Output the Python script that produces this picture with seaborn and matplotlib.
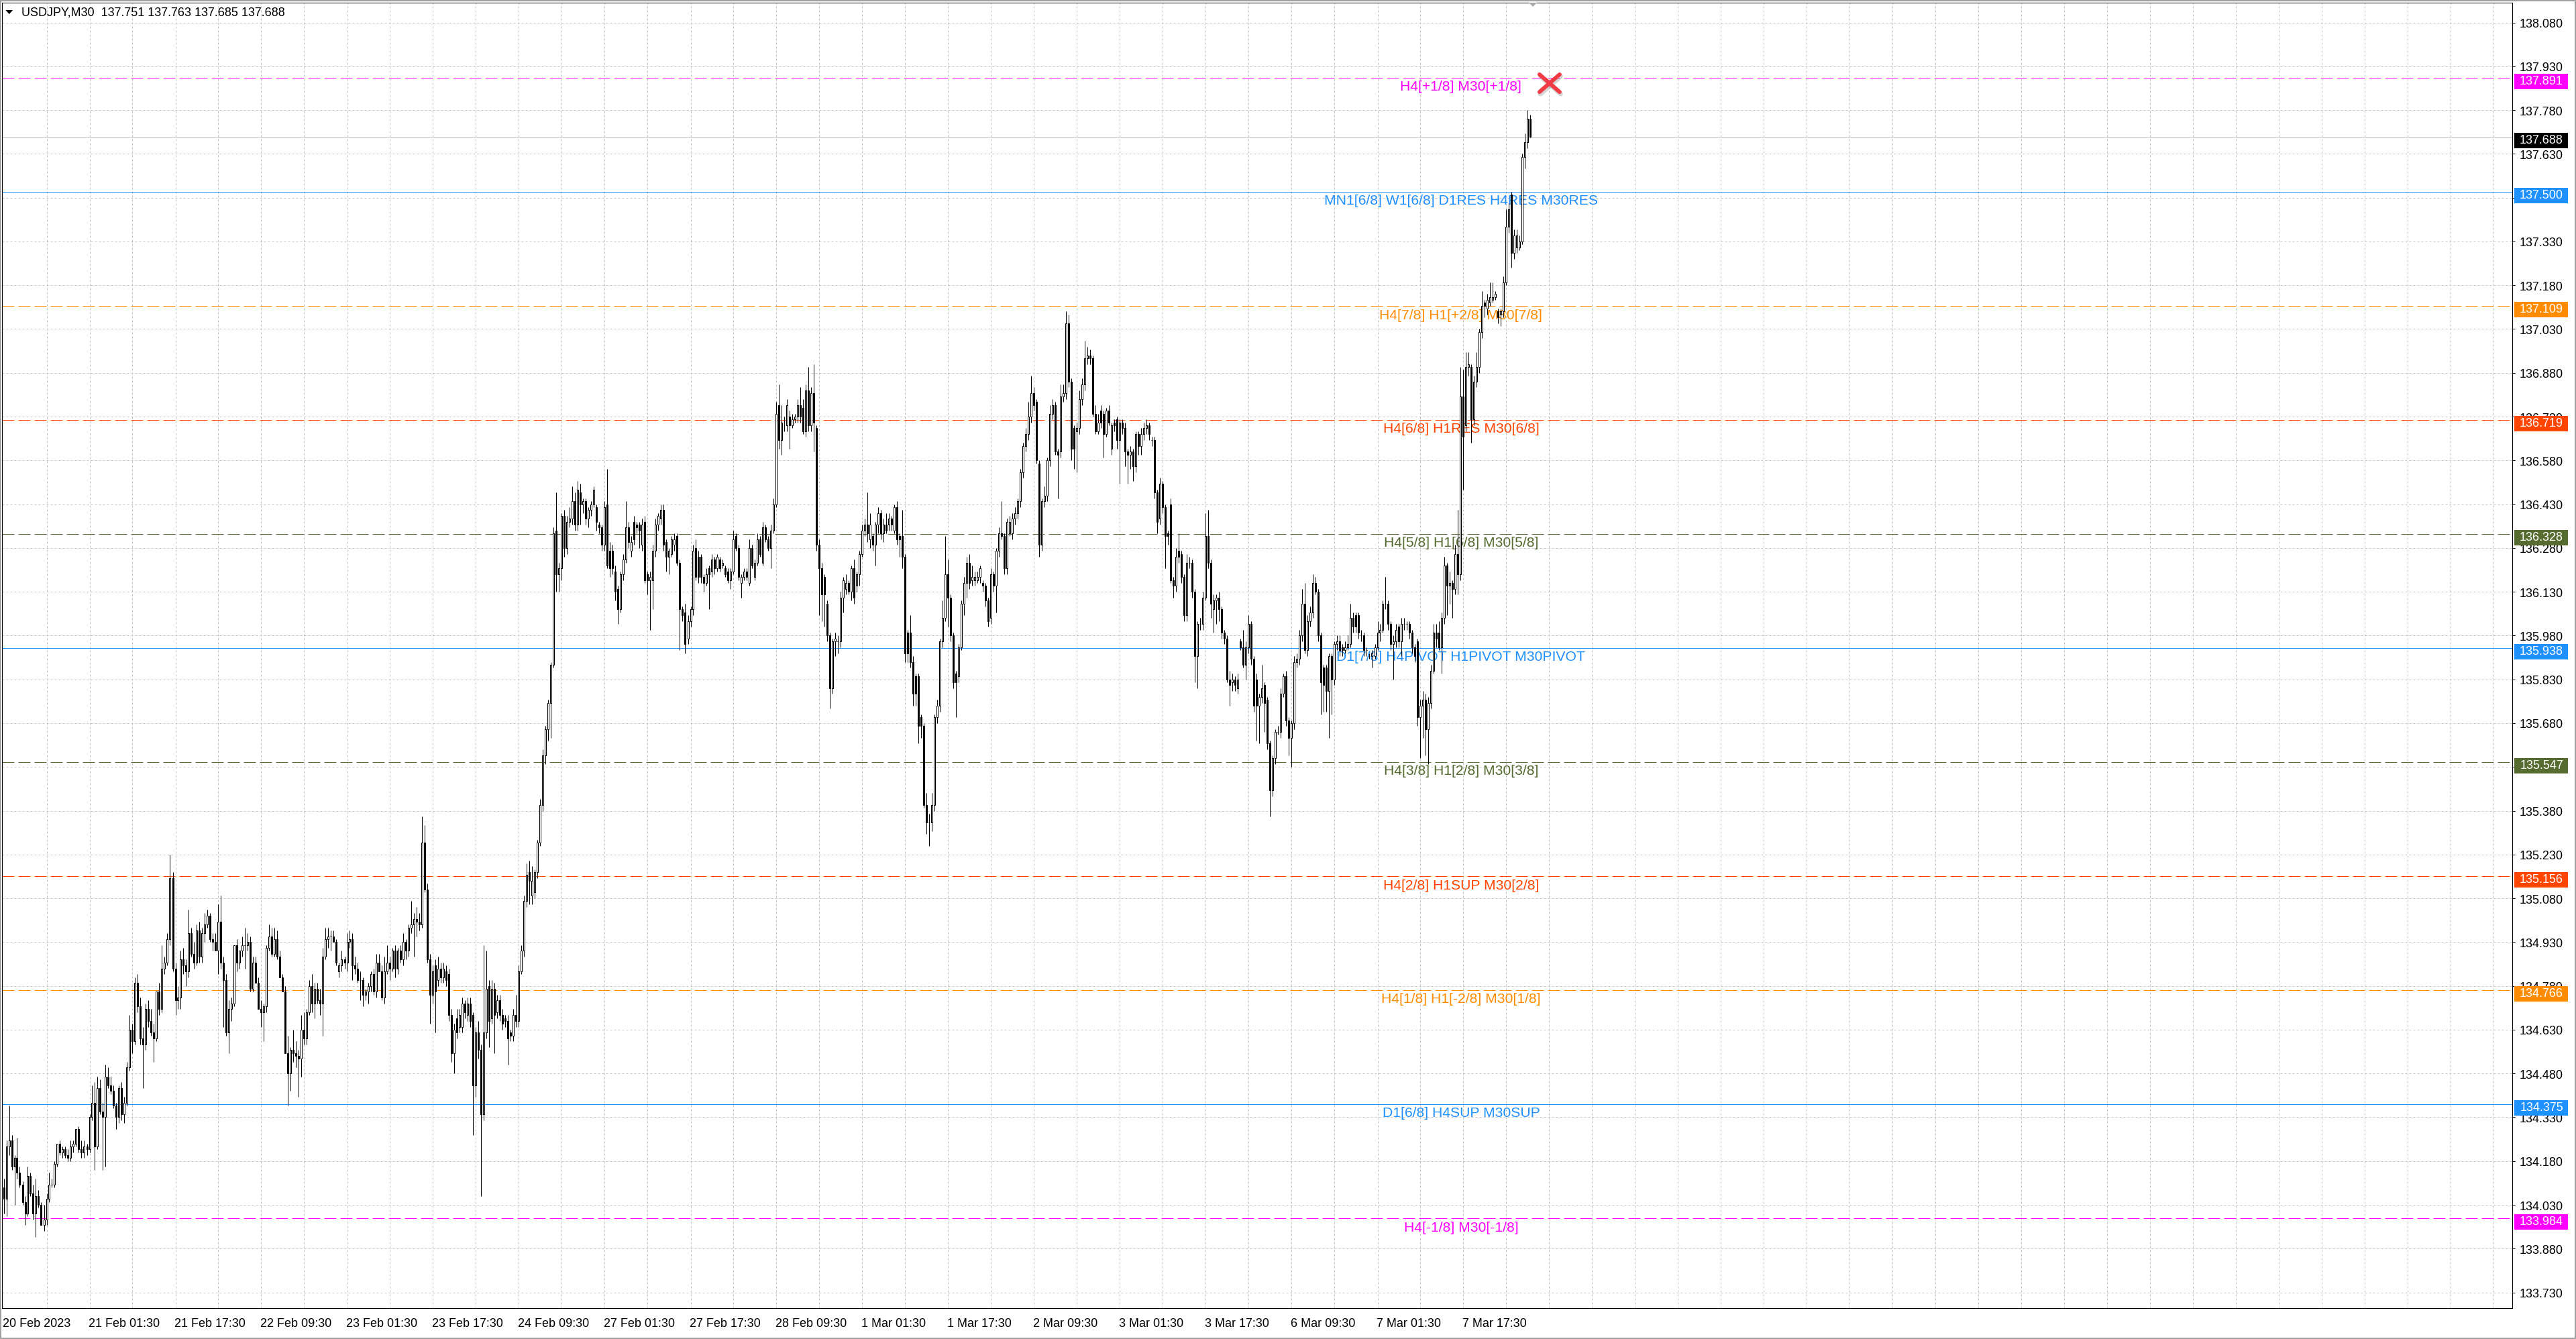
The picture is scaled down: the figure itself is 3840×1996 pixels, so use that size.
import matplotlib
matplotlib.use("Agg")
import matplotlib.pyplot as plt
import seaborn as sns
import numpy as np
import pandas as pd
from matplotlib.patches import Rectangle, Polygon
from matplotlib.transforms import IdentityTransform, blended_transform_factory, offset_copy

# ---------------- data ----------------
title_text = "USDJPY,M30  137.751 137.763 137.685 137.688"

opens = [
134.09,134.05,134.23,134.25,134.16,134.19,134.14,134.10,134.04,134.00,
134.13,134.07,134.00,134.06,134.03,133.96,133.98,134.05,134.10,134.10,
134.17,134.24,134.21,134.22,134.20,134.19,134.23,134.24,134.29,134.22,
134.21,134.23,134.22,134.33,134.38,134.23,134.43,134.35,134.33,134.47,
134.44,134.42,134.37,134.33,134.43,134.34,134.38,134.50,134.63,134.59,
134.79,134.71,134.60,134.58,134.70,134.66,134.62,134.60,134.76,134.70,
134.84,134.86,134.94,135.15,134.84,134.73,134.74,134.87,134.85,134.83,
134.96,134.89,134.86,134.97,134.88,134.96,134.99,135.02,134.94,134.93,
134.90,135.00,134.86,134.80,134.62,134.70,134.72,134.92,134.86,134.90,
134.92,134.92,134.93,134.77,134.86,134.79,134.70,134.69,134.71,134.91,
134.95,134.89,134.94,134.88,134.81,134.76,134.55,134.48,134.56,134.55,
134.54,134.53,134.63,134.60,134.69,134.78,134.72,134.77,134.73,134.72,
134.88,134.94,134.95,134.95,134.93,134.83,134.85,134.87,134.86,134.93,
134.94,134.85,134.84,134.80,134.80,134.75,134.76,134.78,134.82,134.76,
134.86,134.83,134.74,134.83,134.86,134.84,134.90,134.84,134.90,134.87,
134.93,134.90,134.98,134.99,135.01,135.00,134.99,135.27,135.11,134.87,
134.75,134.85,134.80,134.84,134.81,134.83,134.82,134.68,134.55,134.67,
134.64,134.64,134.72,134.68,134.72,134.68,134.44,134.62,134.56,134.34,
134.62,134.78,134.67,134.77,134.69,134.73,134.68,134.67,134.66,134.62,
134.61,134.68,134.66,134.83,134.90,135.07,135.17,135.09,135.10,135.17,
135.27,135.40,135.57,135.66,135.75,135.88,136.34,136.19,136.21,136.39,
136.28,136.37,136.38,136.44,136.36,136.47,136.43,136.44,136.38,136.41,
136.43,136.42,136.36,136.35,136.29,136.43,136.27,136.27,136.20,136.14,
136.07,136.19,136.24,136.35,136.27,136.37,136.36,136.36,136.29,136.37,
136.19,136.17,136.17,136.27,136.36,136.38,136.41,136.30,136.25,136.26,
136.29,136.32,136.23,136.07,136.06,135.97,136.03,136.07,136.28,136.25,
136.25,136.18,136.16,136.21,136.20,136.24,136.21,136.24,136.22,136.21,
136.20,136.17,136.20,136.32,136.28,136.16,136.18,136.20,136.16,136.28,
136.18,136.23,136.31,136.23,136.35,136.31,136.28,136.34,136.43,136.77,
136.65,136.71,136.70,136.73,136.70,136.72,136.73,136.77,136.76,136.68,
136.82,136.70,136.81,136.69,136.29,136.21,136.18,136.09,135.98,135.80,
135.96,135.96,135.96,136.11,136.14,136.16,136.13,136.21,136.15,136.19,
136.26,136.34,136.36,136.31,136.32,136.29,136.36,136.40,136.33,136.36,
136.36,136.38,136.34,136.42,136.32,136.32,136.25,135.99,135.99,135.89,
135.84,135.84,135.70,135.67,135.40,135.34,135.34,135.40,135.70,135.74,
135.96,136.04,136.19,136.11,135.98,135.85,135.84,135.94,136.09,136.16,
136.23,136.17,136.17,136.17,136.18,136.16,136.15,136.10,136.04,136.19,
136.15,136.27,136.33,136.32,136.21,136.33,136.33,136.38,136.40,136.44,
136.54,136.63,136.67,136.73,136.81,136.78,136.57,136.29,136.44,136.46,
136.58,136.74,136.77,136.61,136.61,136.80,136.81,137.05,136.85,136.69,
136.68,136.69,136.79,136.84,136.93,136.94,136.93,136.74,136.68,136.75,
136.74,136.67,136.75,136.62,136.71,136.72,136.65,136.71,136.69,136.61,
136.60,136.61,136.56,136.67,136.63,136.67,136.69,136.70,136.65,136.65,
136.47,136.38,136.50,136.42,136.33,136.43,136.17,136.15,136.27,136.26,
136.18,136.05,136.23,136.23,136.13,135.91,136.02,136.02,136.11,136.32,
136.23,136.07,136.10,136.11,136.07,135.99,135.97,135.83,135.82,135.83,
135.80,135.96,135.94,135.88,135.94,136.02,135.90,135.83,135.74,135.77,
135.81,135.76,135.61,135.45,135.56,135.65,135.65,135.78,135.84,135.69,
135.63,135.68,135.89,135.90,135.98,136.09,135.93,136.03,136.06,136.16,
136.13,135.98,135.87,135.87,135.79,135.91,135.83,135.95,135.96,135.94,
135.93,135.94,135.95,136.04,136.05,136.05,135.98,135.98,135.93,135.91,
135.91,135.91,135.94,135.99,136.00,136.09,136.09,136.02,135.95,135.96,
136.01,135.96,136.02,136.02,136.02,135.99,135.94,135.96,135.70,135.74,
135.76,135.66,135.75,135.86,135.99,135.99,135.94,136.04,136.22,136.15,
136.16,136.14,136.26,136.19,136.80,136.70,136.90,136.90,136.72,136.85,
136.90,137.02,137.12,137.10,137.12,137.13,137.14,137.09,137.08,137.09,
137.19,137.38,137.49,137.29,137.31,137.31,137.33,137.62,137.67,137.751,
]

highs = [
134.12,134.25,134.37,134.27,134.20,134.26,134.16,134.11,134.06,134.16,
134.14,134.10,134.12,134.08,134.04,134.03,134.07,134.14,134.12,134.18,
134.24,134.25,134.23,134.23,134.22,134.25,134.25,134.29,134.30,134.25,
134.25,134.24,134.34,134.44,134.45,134.47,134.46,134.38,134.51,134.50,
134.47,134.44,134.38,134.44,134.45,134.40,134.52,134.68,134.65,134.81,
134.82,134.74,134.64,134.72,134.73,134.70,134.65,134.76,134.79,134.92,
134.88,134.96,135.23,135.17,134.86,134.78,134.90,134.91,134.87,135.04,
134.98,134.93,134.99,135.00,134.98,135.03,135.04,135.03,134.96,134.96,
135.06,135.09,134.88,134.82,134.73,134.74,134.92,134.94,134.90,134.95,
134.98,134.96,134.95,134.88,134.88,134.81,134.73,134.72,134.92,134.99,
134.98,134.98,134.97,134.90,134.82,134.78,134.61,134.57,134.63,134.59,
134.56,134.68,134.69,134.70,134.80,134.82,134.79,134.79,134.77,134.91,
134.98,134.98,134.97,134.97,134.94,134.86,134.90,134.88,134.96,134.97,
134.96,134.88,134.86,134.83,134.81,134.77,134.79,134.83,134.84,134.89,
134.89,134.85,134.88,134.92,134.88,134.91,134.92,134.91,134.92,134.96,
134.94,134.99,135.07,135.03,135.05,135.03,135.36,135.33,135.13,134.89,
134.85,134.87,134.88,134.86,134.86,134.85,134.84,134.70,134.65,134.70,
134.70,134.74,134.73,134.74,134.74,134.69,134.64,134.66,134.58,134.92,
134.90,134.80,134.80,134.79,134.75,134.75,134.70,134.68,134.68,134.63,
134.70,134.75,134.85,134.92,135.09,135.20,135.21,135.19,135.18,135.28,
135.42,135.59,135.67,135.76,135.89,136.35,136.47,136.23,136.40,136.41,
136.39,136.42,136.49,136.47,136.51,136.50,136.45,136.45,136.42,136.44,
136.49,136.43,136.37,136.36,136.44,136.55,136.30,136.29,136.22,136.15,
136.20,136.26,136.44,136.37,136.32,136.39,136.37,136.37,136.38,136.39,
136.20,136.20,136.29,136.38,136.40,136.43,136.43,136.31,136.28,136.32,
136.33,136.33,136.24,136.08,136.09,136.05,136.08,136.29,136.31,136.27,
136.26,136.19,136.21,136.22,136.26,136.25,136.26,136.25,136.24,136.22,
136.21,136.21,136.34,136.33,136.29,136.19,136.21,136.21,136.31,136.29,
136.24,136.33,136.32,136.37,136.36,136.32,136.36,136.45,136.78,136.84,
136.77,136.73,136.79,136.75,136.74,136.74,136.79,136.83,136.79,136.84,
136.90,136.83,136.91,136.70,136.31,136.23,136.19,136.10,135.99,135.97,
135.99,135.98,136.13,136.18,136.19,136.17,136.22,136.24,136.20,136.27,
136.36,136.38,136.47,136.40,136.33,136.37,136.42,136.41,136.38,136.40,
136.40,136.39,136.43,136.44,136.33,136.41,136.26,136.00,136.05,135.91,
135.85,135.85,135.71,135.68,135.44,135.37,135.44,135.71,135.76,135.97,
136.10,136.32,136.24,136.12,135.99,135.86,135.95,136.10,136.18,136.25,
136.26,136.22,136.20,136.20,136.22,136.17,136.16,136.11,136.21,136.20,
136.28,136.35,136.44,136.33,136.38,136.39,136.40,136.42,136.45,136.55,
136.64,136.69,136.78,136.87,136.83,136.79,136.58,136.45,136.49,136.59,
136.77,136.79,136.78,136.62,136.84,136.84,137.09,137.08,136.86,136.70,
136.71,136.82,136.86,136.99,136.97,136.96,136.94,136.77,136.74,136.77,
136.75,136.76,136.77,136.71,136.72,136.73,136.72,136.72,136.71,136.62,
136.63,136.62,136.68,136.68,136.69,136.71,136.72,136.71,136.66,136.66,
136.48,136.52,136.51,136.43,136.34,136.45,136.18,136.28,136.33,136.27,
136.19,136.26,136.25,136.24,136.14,136.03,136.04,136.13,136.40,136.41,
136.24,136.12,136.12,136.13,136.08,136.00,135.98,135.86,135.85,135.84,
135.85,135.97,136.00,135.96,136.05,136.03,135.91,135.85,135.78,135.88,
135.82,135.77,135.62,135.57,135.66,135.67,135.80,135.85,135.86,135.70,
135.69,135.91,135.92,136.00,136.14,136.16,136.05,136.08,136.19,136.18,
136.14,135.99,135.88,135.88,135.92,135.92,135.96,135.98,135.98,135.95,
135.96,135.98,136.09,136.06,136.06,136.06,136.00,135.99,135.94,135.92,
135.93,135.95,136.03,136.02,136.10,136.18,136.10,136.03,135.98,136.02,
136.02,136.04,136.04,136.03,136.03,136.00,135.95,135.97,135.76,135.79,
135.78,135.77,135.88,136.02,136.02,136.03,136.06,136.25,136.23,136.20,
136.17,136.29,136.41,136.90,136.89,136.95,136.95,136.91,136.87,136.95,
137.03,137.16,137.13,137.15,137.19,137.19,137.16,137.10,137.10,137.21,
137.44,137.46,137.50,137.37,137.37,137.35,137.63,137.70,137.78,137.763,
]

lows = [
134.00,133.99,134.20,134.15,134.03,134.12,134.09,134.03,133.96,133.99,
134.06,133.98,133.92,134.02,133.96,133.94,133.96,134.04,134.09,134.09,
134.16,134.20,134.19,134.19,134.18,134.18,134.21,134.23,134.21,134.19,
134.19,134.20,134.21,134.32,134.15,134.22,134.34,134.15,134.16,134.43,
134.41,134.36,134.29,134.31,134.32,134.31,134.37,134.49,134.55,134.58,
134.69,134.58,134.43,134.56,134.64,134.61,134.52,134.59,134.68,134.69,
134.82,134.85,134.92,134.83,134.68,134.70,134.70,134.82,134.78,134.81,
134.88,134.84,134.85,134.86,134.86,134.93,134.98,134.93,134.90,134.90,
134.82,134.84,134.64,134.61,134.55,134.66,134.71,134.83,134.84,134.88,
134.84,134.90,134.76,134.76,134.79,134.70,134.64,134.59,134.69,134.90,
134.88,134.88,134.87,134.81,134.76,134.55,134.37,134.42,134.52,134.50,
134.40,134.47,134.58,134.58,134.68,134.69,134.67,134.72,134.68,134.61,
134.87,134.91,134.90,134.93,134.85,134.81,134.83,134.84,134.83,134.91,
134.80,134.82,134.79,134.73,134.71,134.73,134.72,134.76,134.75,134.74,
134.83,134.73,134.72,134.82,134.80,134.83,134.81,134.82,134.86,134.85,
134.87,134.88,134.96,134.88,134.95,134.97,134.98,135.10,134.86,134.65,
134.72,134.62,134.78,134.79,134.79,134.78,134.66,134.52,134.48,134.60,
134.62,134.62,134.67,134.66,134.64,134.27,134.40,134.53,134.06,134.32,
134.60,134.57,134.65,134.55,134.67,134.66,134.63,134.64,134.51,134.59,
134.59,134.64,134.64,134.82,134.88,135.05,135.06,135.06,135.08,135.15,
135.26,135.38,135.54,135.62,135.63,135.87,136.13,136.13,136.17,136.25,
136.26,136.35,136.36,136.34,136.34,136.36,136.40,136.36,136.35,136.39,
136.42,136.34,136.33,136.27,136.27,136.21,136.18,136.19,136.10,136.02,
136.06,136.17,136.23,136.28,136.25,136.29,136.33,136.28,136.27,136.16,
136.12,136.00,136.07,136.25,136.34,136.36,136.27,136.20,136.19,136.25,
136.27,136.22,135.93,136.03,135.92,135.95,136.01,136.05,136.17,136.16,
136.16,136.13,136.15,136.07,136.18,136.19,136.20,136.20,136.21,136.18,
136.16,136.14,136.19,136.27,136.17,136.11,136.17,136.17,136.15,136.21,
136.17,136.22,136.25,136.22,136.30,136.27,136.21,136.33,136.42,136.62,
136.60,136.68,136.68,136.62,136.69,136.71,136.71,136.71,136.67,136.66,
136.68,136.68,136.61,136.27,136.05,136.03,136.01,135.96,135.73,135.78,
135.91,135.92,135.94,136.06,136.12,136.12,136.10,136.09,136.13,136.15,
136.25,136.32,136.30,136.28,136.27,136.22,136.33,136.31,136.30,136.33,
136.34,136.34,136.33,136.29,136.25,136.21,135.89,135.89,135.87,135.74,
135.74,135.61,135.63,135.39,135.30,135.26,135.31,135.38,135.68,135.72,
135.94,136.03,136.01,135.96,135.80,135.70,135.82,135.93,136.05,136.11,
136.14,136.15,136.15,136.16,136.16,136.13,136.08,136.01,136.02,136.13,
136.06,136.25,136.31,136.19,136.19,136.32,136.31,136.36,136.38,136.42,
136.52,136.61,136.65,136.71,136.75,136.57,136.25,136.27,136.42,136.44,
136.56,136.72,136.60,136.45,136.59,136.78,136.79,136.83,136.58,136.55,
136.54,136.67,136.77,136.82,136.91,136.91,136.73,136.67,136.67,136.69,
136.59,136.66,136.70,136.60,136.68,136.62,136.50,136.67,136.56,136.50,
136.55,136.51,136.54,136.60,136.60,136.65,136.67,136.65,136.63,136.45,
136.33,136.36,136.40,136.21,136.29,136.16,136.11,136.13,136.23,136.16,
136.03,136.03,136.21,136.11,135.82,135.80,136.00,136.00,136.10,136.21,
136.04,135.99,136.02,136.03,135.97,135.95,135.82,135.74,135.79,135.79,
135.78,135.93,135.87,135.83,135.92,135.88,135.72,135.62,135.61,135.75,
135.65,135.59,135.36,135.43,135.54,135.64,135.63,135.77,135.67,135.57,
135.53,135.66,135.87,135.88,135.96,135.92,135.91,136.01,136.04,136.12,
135.96,135.71,135.72,135.72,135.63,135.71,135.81,135.93,135.91,135.91,
135.92,135.93,135.94,135.99,135.99,135.97,135.96,135.91,135.91,135.90,
135.87,135.90,135.93,135.96,135.99,136.07,136.00,135.93,135.83,135.94,
135.94,135.91,136.00,136.00,135.97,135.92,135.89,135.67,135.56,135.63,
135.57,135.54,135.73,135.85,135.94,135.93,135.85,136.02,136.05,136.09,
136.04,136.12,136.12,136.17,136.48,136.68,136.87,136.64,136.70,136.83,
136.88,137.00,137.07,137.08,137.11,137.12,137.13,137.05,137.04,137.07,
137.18,137.36,137.24,137.27,137.29,137.30,137.32,137.58,137.65,137.685,
]

closes = [
134.05,134.23,134.25,134.16,134.19,134.14,134.10,134.04,134.00,134.13,
134.07,134.00,134.06,134.03,133.96,133.98,134.05,134.10,134.10,134.17,
134.24,134.21,134.22,134.20,134.19,134.23,134.24,134.29,134.22,134.21,
134.23,134.22,134.33,134.38,134.23,134.43,134.35,134.33,134.47,134.44,
134.42,134.37,134.33,134.43,134.34,134.38,134.50,134.63,134.59,134.79,
134.71,134.60,134.58,134.70,134.66,134.62,134.60,134.76,134.70,134.84,
134.86,134.94,135.15,134.84,134.73,134.74,134.87,134.85,134.83,134.96,
134.89,134.86,134.97,134.88,134.96,134.99,135.02,134.94,134.93,134.90,
135.00,134.86,134.80,134.62,134.70,134.72,134.92,134.86,134.90,134.92,
134.92,134.93,134.77,134.86,134.79,134.70,134.69,134.71,134.91,134.95,
134.89,134.94,134.88,134.81,134.76,134.55,134.48,134.56,134.55,134.54,
134.53,134.63,134.60,134.69,134.78,134.72,134.77,134.73,134.72,134.88,
134.94,134.95,134.95,134.93,134.86,134.85,134.87,134.86,134.93,134.94,
134.85,134.84,134.80,134.80,134.75,134.76,134.78,134.82,134.76,134.86,
134.83,134.74,134.83,134.86,134.84,134.90,134.84,134.90,134.87,134.93,
134.90,134.98,134.99,135.01,135.00,134.99,135.27,135.11,134.87,134.75,
134.83,134.76,134.84,134.81,134.84,134.80,134.68,134.55,134.63,134.62,
134.68,134.72,134.69,134.72,134.66,134.44,134.62,134.56,134.34,134.62,
134.77,134.66,134.77,134.68,134.73,134.68,134.65,134.66,134.60,134.61,
134.68,134.66,134.83,134.90,135.07,135.16,135.14,135.14,135.17,135.27,
135.40,135.57,135.66,135.75,135.88,136.33,136.19,136.21,136.39,136.28,
136.37,136.38,136.44,136.36,136.48,136.43,136.44,136.38,136.41,136.43,
136.48,136.37,136.35,136.29,136.42,136.22,136.21,136.21,136.13,136.07,
136.19,136.24,136.35,136.30,136.30,136.31,136.35,136.34,136.36,136.17,
136.17,136.18,136.27,136.36,136.39,136.41,136.29,136.25,136.27,136.31,
136.31,136.23,136.07,136.05,135.95,136.03,136.07,136.27,136.18,136.18,
136.18,136.16,136.19,136.19,136.24,136.21,136.25,136.21,136.23,136.19,
136.17,136.20,136.31,136.28,136.18,136.18,136.20,136.18,136.28,136.22,
136.23,136.31,136.26,136.35,136.31,136.28,136.34,136.43,136.74,136.65,
136.71,136.71,136.77,136.70,136.72,136.73,136.77,136.73,136.68,136.82,
136.70,136.81,136.71,136.29,136.21,136.12,136.12,135.98,135.80,135.96,
135.97,135.96,136.11,136.17,136.16,136.13,136.21,136.11,136.19,136.26,
136.34,136.36,136.33,136.36,136.29,136.36,136.40,136.33,136.36,136.34,
136.38,136.36,136.42,136.31,136.31,136.25,135.92,135.92,135.89,135.78,
135.78,135.67,135.67,135.40,135.34,135.34,135.40,135.70,135.74,135.96,
136.04,136.19,136.11,135.98,135.82,135.82,135.94,136.09,136.16,136.23,
136.16,136.18,136.18,136.18,136.21,136.15,136.10,136.03,136.19,136.15,
136.27,136.33,136.32,136.21,136.37,136.37,136.38,136.40,136.44,136.54,
136.63,136.67,136.73,136.81,136.77,136.58,136.29,136.44,136.46,136.58,
136.74,136.77,136.61,136.60,136.80,136.81,137.05,136.85,136.62,136.62,
136.69,136.79,136.84,136.93,136.94,136.93,136.74,136.68,136.71,136.71,
136.67,136.75,136.71,136.70,136.70,136.65,136.71,136.69,136.61,136.60,
136.61,136.56,136.67,136.63,136.67,136.69,136.70,136.67,136.65,136.47,
136.37,136.50,136.42,136.32,136.32,136.17,136.15,136.25,136.25,136.18,
136.05,136.23,136.23,136.13,135.91,136.02,136.02,136.11,136.32,136.23,
136.09,136.10,136.11,136.07,135.99,135.97,135.83,135.81,135.83,135.81,
135.83,135.94,135.88,135.94,136.02,135.90,135.74,135.74,135.77,135.80,
135.75,135.61,135.45,135.56,135.65,135.65,135.78,135.84,135.69,135.63,
135.68,135.89,135.90,135.98,136.09,135.93,136.03,136.06,136.16,136.13,
135.98,135.82,135.81,135.79,135.91,135.83,135.95,135.96,135.93,135.93,
135.94,135.95,136.04,136.01,136.01,135.99,135.98,135.93,135.93,135.91,
135.92,135.94,135.99,136.00,136.09,136.09,136.02,135.95,135.96,136.00,
135.96,136.02,136.02,136.02,135.99,135.94,135.91,135.70,135.74,135.76,
135.66,135.75,135.86,135.99,135.97,135.94,136.04,136.22,136.15,136.16,
136.14,136.26,136.19,136.80,136.66,136.90,136.91,136.72,136.85,136.90,
137.02,137.11,137.11,137.13,137.14,137.14,137.15,137.07,137.09,137.19,
137.38,137.44,137.29,137.35,137.35,137.33,137.62,137.67,137.75,137.688,
]

time_labels = ["20 Feb 2023", "21 Feb 01:30", "21 Feb 17:30", "22 Feb 09:30",
               "23 Feb 01:30", "23 Feb 17:30", "24 Feb 09:30", "27 Feb 01:30",
               "27 Feb 17:30", "28 Feb 09:30", "1 Mar 01:30", "1 Mar 17:30",
               "2 Mar 09:30", "3 Mar 01:30", "3 Mar 17:30", "6 Mar 09:30",
               "7 Mar 01:30", "7 Mar 17:30"]
bars_per_label = 32

price_ticks = [133.730, 133.880, 134.030, 134.180, 134.330, 134.480, 134.630,
               134.780, 134.930, 135.080, 135.230, 135.380, 135.530, 135.680,
               135.830, 135.980, 136.130, 136.280, 136.430, 136.580, 136.730,
               136.880, 137.030, 137.180, 137.330, 137.480, 137.630, 137.780,
               137.930, 138.080]

level_prices = [137.891, 137.500, 137.109, 136.719, 136.328, 135.938,
                135.547, 135.156, 134.766, 134.375, 133.984]
level_texts = ["H4[+1/8] M30[+1/8]",
               "MN1[6/8] W1[6/8] D1RES H4RES M30RES",
               "H4[7/8] H1[+2/8] M30[7/8]",
               "H4[6/8] H1RES M30[6/8]",
               "H4[5/8] H1[6/8] M30[5/8]",
               "D1[7/8] H4PIVOT H1PIVOT M30PIVOT",
               "H4[3/8] H1[2/8] M30[3/8]",
               "H4[2/8] H1SUP M30[2/8]",
               "H4[1/8] H1[-2/8] M30[1/8]",
               "D1[6/8] H4SUP M30SUP",
               "H4[-1/8] M30[-1/8]"]
level_colors = ["#FF00FF", "#1E90FF", "#FF8C00", "#FF4500", "#556B2F", "#1E90FF",
                "#556B2F", "#FF4500", "#FF8C00", "#1E90FF", "#FF00FF"]
level_dashed = [True, False, True, True, True, False, True, True, True, False, True]

bid_price = 137.688
cross_bar, cross_price = 576.1, 137.872

# ---------------- figure ----------------
sns.set_theme(style="white")
plt.rcParams['font.family'] = ['Liberation Sans', 'DejaVu Sans']
plt.rcParams['lines.scale_dashes'] = True

W, H = 3840, 1996
fig = plt.figure(figsize=(W / 100, H / 100), dpi=100)
fig.patch.set_facecolor("white")
L_PX, R_PX, T_PX, B_PX = 3, 3745, 4, 1950
ax = fig.add_axes([L_PX / W, (H - B_PX) / H, (R_PX - L_PX) / W, (B_PX - T_PX) / H])
ax.set_facecolor("white")
ax.set_xlim(-0.625, 934.875)
ax.set_ylim(133.6762, 138.1478)
for s in ax.spines.values():
    s.set_color("black")
    s.set_linewidth(0.72)

FS = 13
FS_LEVEL = 15.2
PX = 0.72  # 1 pixel in points

# grid
ax.set_yticks(price_ticks)
ax.set_xticks(np.arange(16, 929, 16))
ax.grid(True, color="#c4c4c4", linewidth=PX, linestyle=(0, (3, 3)))
ax.set_axisbelow(True)
ax.tick_params(axis="x", length=0, labelbottom=False, bottom=False)
ax.yaxis.tick_right()
ax.tick_params(axis="y", right=True, left=False, length=3, width=PX, color="black",
               labelright=False, labelleft=False, direction="out")

# level lines and labels
for p, t, c, d in zip(level_prices, level_texts, level_colors, level_dashed):
    ln = ax.axhline(p, color=c, linewidth=PX, linestyle=(0, (18, 6)) if d else "-", zorder=2)
    ln.set_snap(True)
    ax.text(543.1, p, t, color=c, fontsize=FS_LEVEL, ha="center", va="baseline", zorder=3,
            transform=offset_copy(ax.transData, fig=fig, y=-19.5, units="dots"))

# bid line
bid_df = pd.DataFrame({"x": [ax.get_xlim()[0], ax.get_xlim()[1]], "y": [bid_price, bid_price]})
sns.lineplot(data=bid_df, x="x", y="y", ax=ax, color="#c0c0c0", linewidth=PX, zorder=2)
ax.set_xlim(-0.625, 934.875)
ax.set_xlabel("")
ax.set_ylabel("")

# candles
o = np.array(opens); h = np.array(highs); lo = np.array(lows); c = np.array(closes)
n = min(len(o), len(h), len(lo), len(c))
o, h, lo, c = o[:n], h[:n], lo[:n], c[:n]
x = np.arange(n)
ax.vlines(x, lo, h, color="black", linewidth=PX, zorder=4)
bottoms = np.minimum(o, c)
heights = np.abs(c - o)
facecols = ["white" if cc >= oo else "black" for oo, cc in zip(o, c)]
ax.bar(x, heights, bottom=bottoms, width=0.5, color=facecols, edgecolor="black",
       linewidth=PX, zorder=5)

# red cross object
dx, dy = 3.75, 0.030
sh = offset_copy(ax.transData, fig=fig, x=1.5, y=-3, units="dots")
for (xa, xb), (ya, yb) in [((cross_bar - dx, cross_bar + dx), (cross_price + dy, cross_price - dy)),
                           ((cross_bar - dx, cross_bar + dx), (cross_price - dy, cross_price + dy))]:
    ax.plot([xa, xb], [ya, yb], color="#8a8a8a", alpha=0.35, linewidth=5.0,
            solid_capstyle="round", transform=sh, zorder=6)
    ax.plot([xa, xb], [ya, yb], color="#f03c44", linewidth=4.3,
            solid_capstyle="round", zorder=7)

# price axis labels
ytrans = blended_transform_factory(IdentityTransform(), ax.transData)
ppu = ax.transData.transform((0, 1))[1] - ax.transData.transform((0, 0))[1]
lab_trans = offset_copy(ytrans, fig=fig, y=-3, units="dots")
for t in price_ticks:
    ax.text(3756, t, f"{t:.3f}", fontsize=FS, color="black", ha="left", va="center",
            transform=lab_trans, clip_on=False, zorder=9)

# price tags
tags = list(zip(level_prices, level_colors)) + [(bid_price, "black")]
for p, col in tags:
    r = Rectangle((3748, p - 17 / ppu), 80, 23 / ppu, transform=ytrans,
                  facecolor=col, edgecolor="none", clip_on=False, zorder=10)
    ax.add_patch(r)
    ax.text(3788.5, p - 5.5 / ppu, f"{p:.3f}", fontsize=FS, color="white",
            ha="center", va="center", transform=ytrans, clip_on=False, zorder=11)

# time labels
xtrans = blended_transform_factory(ax.transData, IdentityTransform())
for k, lab in enumerate(time_labels):
    ax.text(k * bars_per_label - 0.25, H - 1974, lab, fontsize=FS, color="black",
            ha="left", va="center", transform=xtrans, clip_on=False, zorder=9)

# header
fig.add_artist(Polygon([(8.4, H - 15), (19.2, H - 15), (13.8, H - 21)], closed=True,
                       transform=IdentityTransform(), facecolor="black", edgecolor="none"))
fig.text(32.5, H - 19, title_text, fontsize=FS, color="black", ha="left", va="center",
         transform=IdentityTransform())

# chart-shift marker
fig.add_artist(Polygon([(2279, H - 4), (2291, H - 4), (2285, H - 10)], closed=True,
                       transform=IdentityTransform(), facecolor="#a8a8a8", edgecolor="none"))

# window frame
fig.add_artist(Rectangle((1, 1), W - 2, H - 2, transform=IdentityTransform(),
                         fill=False, edgecolor="#a0a0a0", linewidth=1.44))

fig.savefig("out.png", dpi=100, facecolor="white")
